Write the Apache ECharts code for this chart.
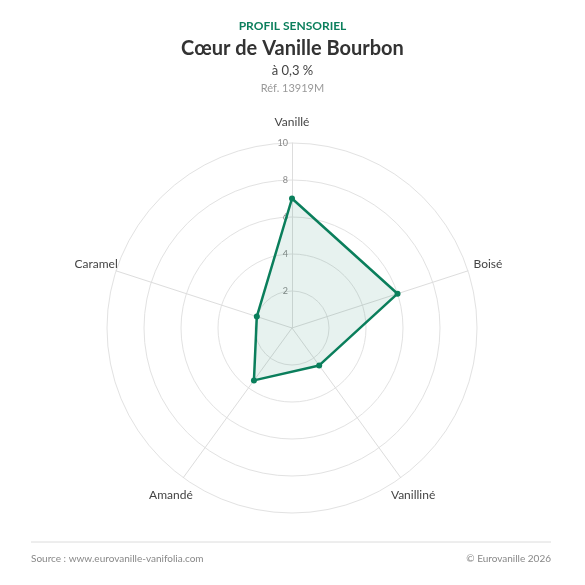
<!DOCTYPE html>
<html>
<head>
<meta charset="utf-8">
<script src="https://cdn.jsdelivr.net/npm/echarts@6/dist/echarts.min.js"></script>
<style>
  html, body { margin: 0; padding: 0; background: #fff; }
  #chart { width: 585px; height: 585px; }
</style>
</head>
<body>
<div id="chart"></div>
<script>
// profil sensoriel, notes sur 10 (sens horaire depuis le haut)
var criteres = ["Vanillé", "Boisé", "Vanilliné", "Amandé", "Caramel"];
var notes = [7, 6, 2.5, 3.5, 2];
var noteMax = 10;

var vert = "#0b7f5c";
var police = "Lato, 'Open Sans', sans-serif";

var chart = echarts.init(document.getElementById("chart"));

// le radar tourne dans le sens anti-horaire : on garde le premier et on inverse le reste
var ordre = [0].concat(criteres.map(function (c, i) { return i; }).slice(1).reverse());

// seul le premier axe porte les graduations
var indicateurs = ordre.map(function (i, k) {
    var ind = { name: criteres[i], max: noteMax, min: 0 };
    if (k === 0) {
        ind.axisLabel = {
            show: true,
            formatter: function (v) { return v === 0 ? "" : v; }
        };
    }
    return ind;
});
var valeurs = ordre.map(function (i) { return notes[i]; });

function titre(texte, top, taille, gras, couleur, pos) {
    var t = {
        text: texte, top: top, padding: 0,
        textStyle: { fontSize: taille, fontWeight: gras ? "bold" : "normal", color: couleur, fontFamily: police }
    };
    if (pos) {
        for (var k in pos) t[k] = pos[k];
    } else {
        t.left = "center";
    }
    return t;
}

chart.setOption({
    backgroundColor: "#fff",
    textStyle: { fontFamily: police },
    title: [
        titre("PROFIL SENSORIEL", 20, 12, true, vert),
        titre("Cœur de Vanille Bourbon", 39, 20, true, "#333"),
        titre("à 0,3 %", 64, 13, false, "#444"),
        titre("Réf. 13919M", 83, 11, false, "#999"),
        titre("Source : www.eurovanille-vanifolia.com", 554, 10, false, "#888", { left: 31 }),
        titre("© Eurovanille 2026", 554, 10, false, "#888", { right: 34 })
    ],
    graphic: [
        {
            type: "line",
            shape: { x1: 31, y1: 542, x2: 551, y2: 542 },
            style: { stroke: "#dcdcdc", lineWidth: 1 }
        }
    ],
    radar: {
        center: [292, 328],
        radius: 185,
        startAngle: 90,
        shape: "circle",
        splitNumber: 5,
        indicator: indicateurs,
        axisName: { color: "#444", fontSize: 12, fontFamily: police, align: "center", verticalAlign: "middle" },
        nameGap: 21,
        splitLine: { lineStyle: { color: "#e2e2e2", width: 1 } },
        splitArea: { show: false },
        axisLine: { lineStyle: { color: "#dddddd", width: 1 } },
        axisTick: { show: false },
        axisLabel: { show: false, color: "#888", fontSize: 9, fontFamily: police, margin: 4 }
    },
    series: [
        {
            type: "radar",
            symbol: "circle",
            symbolSize: 6,
            lineStyle: { color: vert, width: 2.5 },
            itemStyle: { color: vert },
            areaStyle: { color: "rgba(11,127,92,0.14)" },
            data: [{ value: valeurs, name: "Cœur de Vanille Bourbon" }]
        }
    ]
});
</script>
</body>
</html>
